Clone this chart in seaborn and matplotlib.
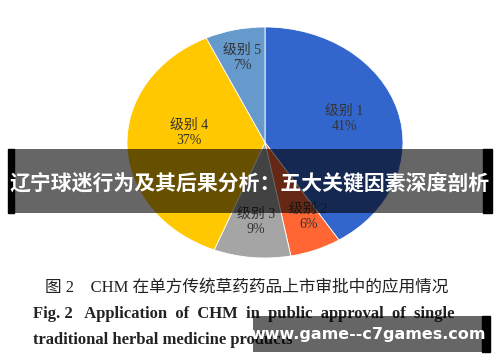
import numpy as np
import seaborn as sns
import matplotlib.pyplot as plt
from matplotlib.patches import Rectangle

# pie data
categories = ['级别 1', '级别 2', '级别 3', '级别 4', '级别 5']
shares = [41, 6, 9, 37, 7]
slice_colors = ['#3366CC', '#FF6633', '#A5A5A5', '#FFC800', '#6699CC']

# texts
banner_title = '辽宁球迷行为及其后果分析：五大关键因素深度剖析'
caption_cn = '图 2　CHM 在单方传统草药药品上市审批中的应用情况'
caption_en_1 = 'Fig. 2   Application  of  CHM  in  public  approval  of  single'
caption_en_2 = 'traditional herbal medicine products'
watermark = 'www.game--c7games.com'

sns.set_theme(style='white')
plt.rcParams['font.family'] = ['Liberation Serif', 'Noto Sans CJK SC', 'DejaVu Sans']

W, H = 500, 362
fig = plt.figure(figsize=(W / 100, H / 100), dpi=100)
fig.patch.set_facecolor('white')

# elliptical pie: axes box = bounding box of the ellipse
left, right, top, bottom = 127, 403, 27, 258
ax = fig.add_axes([left / W, (H - bottom) / H, (right - left) / W, (bottom - top) / H])
labels = [f'{c}\n{s}%' for c, s in zip(categories, shares)]
wedges, texts = ax.pie(shares, labels=labels, colors=sns.color_palette(slice_colors),
                       startangle=90, counterclock=False, radius=1,
                       labeldistance=0.6,
                       wedgeprops={'edgecolor': 'white', 'linewidth': 0.6},
                       textprops={'fontsize': 10, 'color': '#333333'})
# label placement tweaks (radius, shifts)
label_r = [0.6, 0.69, 0.69, 0.55, 0.75]
label_dx = [0.0, 0.06, 0.0, 0.0, 0.0]
label_dy = [0.04, 0.0, 0.0, 0.1, 0.0]
for w, t, r, dx, dy in zip(wedges, texts, label_r, label_dx, label_dy):
    ang = np.deg2rad((w.theta1 + w.theta2) / 2)
    t.set_position((r * np.cos(ang) + dx, r * np.sin(ang) + dy))
    t.set_ha('center')
    t.set_va('center')
    t.set_linespacing(1.25)
ax.set_aspect('auto')
ax.set_xlim(-1, 1)
ax.set_ylim(-1, 1)
ax.axis('off')

# overlay in pixel coords
ov = fig.add_axes([0, 0, 1, 1], zorder=5)
ov.set_xlim(0, W)
ov.set_ylim(H, 0)
ov.axis('off')
ov.patch.set_alpha(0)

# captions
ov.text(247, 288, caption_cn, fontsize=12, ha='center', va='center', color='#222222')
ov.text(33, 314, caption_en_1, fontsize=12, fontweight='bold', ha='left', va='center',
        color='#222222')
ov.text(33, 340, caption_en_2, fontsize=12, fontweight='bold', ha='left', va='center',
        color='#222222')

# banner
ov.add_patch(Rectangle((8, 149), 6, 64, color='black', zorder=6))
ov.add_patch(Rectangle((483, 149), 9, 64, color='black', zorder=6))
ov.add_patch(Rectangle((14, 149), 469, 64, color='black', alpha=0.6, lw=0, zorder=6))
ov.text(250, 184, banner_title, fontsize=15, fontweight='bold', color='white',
        ha='center', va='center', family=['Noto Sans CJK SC', 'DejaVu Sans'], zorder=7)

# watermark
ov.add_patch(Rectangle((482, 316), 8, 36, color='black', zorder=6))
ov.add_patch(Rectangle((253, 316), 229, 36, color='black', alpha=0.6, lw=0, zorder=6))
ov.text(368, 334, watermark, fontsize=11.5, fontweight='bold', color='white',
        ha='center', va='center', family=['DejaVu Sans'], zorder=7)

fig.savefig('out.png', dpi=100)
